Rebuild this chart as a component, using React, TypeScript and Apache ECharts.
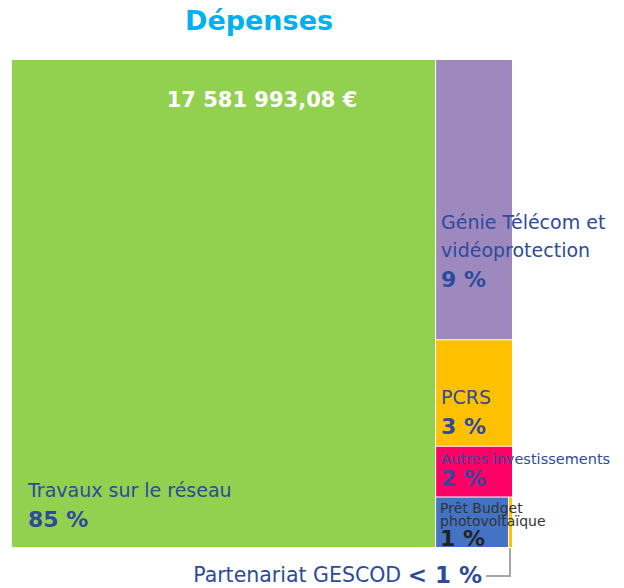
import React, { useEffect, useRef } from 'react';
import * as echarts from 'echarts';

const titleText = 'Dépenses';
const categories = [
  'Travaux sur le réseau',
  'Génie Télécom et vidéoprotection',
  'PCRS',
  'Autres investissements',
  'Prêt Budget photovoltaïque',
  'Partenariat GESCOD',
];
const labelLines = [
  ['Travaux sur le réseau'],
  ['Génie Télécom et', 'vidéoprotection'],
  ['PCRS'],
  ['Autres investissements'],
  ['Prêt Budget', 'photovoltaïque'],
  ['Partenariat GESCOD'],
];
const amounts = [17581993.08, 1830000, 696000, 332000, 312000, 17000];
const percentLabels = ['85 %', '9 %', '3 %', '2 %', '1 %', '< 1 %'];

// presentation
const colors = ['#92D050', '#9E89BF', '#FFC000', '#FF0066', '#4472C4', '#FFC000'];
const nameStyle = ['n', 'n', 'n', 'ns', 'nx', 'n'];
const pctStyle = ['p', 'p', 'p', 'ps', 'px', 'p'];
const labelPos: number[][] = [[16, 416], [5, 148], [5, 43], [5, 4], [4, 4], [0, 0]];

const FONT = 'DejaVu Sans';
const BLUE = '#2E4A9B';

function formatEuro(v: number): string {
  const [intPart, dec] = v.toFixed(2).split('.');
  const grouped = intPart.replace(/\B(?=(\d{3})+(?!\d))/g, ' ');
  return `${grouped},${dec} €`;
}

export default function App() {
  const ref = useRef<HTMLDivElement>(null);
  useEffect(() => {
    if (!ref.current) return;
    const chart = echarts.init(ref.current, null, { renderer: 'svg' });
    const last = categories.length - 1;
    const data = categories.map((c, i) => ({
      name: c,
      value: amounts[i],
      itemStyle: { color: colors[i] },
      label: {
        show: i !== last,
        position: labelPos[i],
        formatter:
          labelLines[i].map((l) => `{${nameStyle[i]}|${l}}`).join('\n') +
          `\n{${pctStyle[i]}|${percentLabels[i]}}`,
      },
    }));
    chart.setOption({
      animation: false,
      title: {
        text: titleText,
        left: 185,
        top: 7,
        padding: 0,
        textStyle: { fontFamily: FONT, fontSize: 27, fontWeight: 'bold', color: '#00B0F0' },
      },
      series: [
        {
          type: 'treemap',
          left: 12,
          top: 60,
          width: 500,
          height: 487,
          roam: false,
          nodeClick: false,
          squareRatio: 1,
          sort: 'desc',
          breadcrumb: { show: false },
          itemStyle: { gapWidth: 1, borderWidth: 0, borderColor: '#fff' },
          label: {
            show: true,
            padding: 0,
            overflow: 'none',
            fontFamily: FONT,
            textBorderWidth: 0,
            rich: {
              n: { fontFamily: FONT, fontSize: 19, color: BLUE, lineHeight: 28 },
              p: { fontFamily: FONT, fontSize: 22, fontWeight: 'bold', color: BLUE, lineHeight: 30 },
              ns: { fontFamily: FONT, fontSize: 14.5, color: BLUE, lineHeight: 16 },
              ps: { fontFamily: FONT, fontSize: 22, fontWeight: 'bold', color: BLUE, lineHeight: 24 },
              nx: { fontFamily: FONT, fontSize: 14, color: '#333', lineHeight: 13 },
              px: { fontFamily: FONT, fontSize: 22, fontWeight: 'bold', color: '#222', lineHeight: 22 },
            },
          },
          emphasis: { disabled: true },
          data,
        },
      ],
      graphic: [
        {
          type: 'text',
          x: 262,
          y: 89,
          z: 100,
          style: {
            text: formatEuro(amounts[0]),
            fontFamily: FONT,
            fontSize: 21,
            fontWeight: 'bold',
            fill: '#fff',
            align: 'center',
            verticalAlign: 'top',
          },
        },
        {
          type: 'text',
          x: 482,
          y: 563,
          z: 100,
          style: {
            text: `{n|${labelLines[last][0]} }{p|${percentLabels[last]}}`,
            align: 'right',
            rich: {
              n: { fontFamily: FONT, fontSize: 20.5, fill: BLUE, color: BLUE },
              p: { fontFamily: FONT, fontSize: 23, fontWeight: 'bold', fill: BLUE, color: BLUE },
            },
          },
        },
        {
          type: 'polyline',
          z: 100,
          shape: { points: [[486, 576], [510, 576], [510, 548]] },
          style: { stroke: '#A6A6A6', lineWidth: 2, fill: null },
        },
      ],
    });
    return () => chart.dispose();
  }, []);
  return (
    <div
      ref={ref}
      style={{ position: 'absolute', left: 0, top: 0, width: 624, height: 588 }}
    />
  );
}
